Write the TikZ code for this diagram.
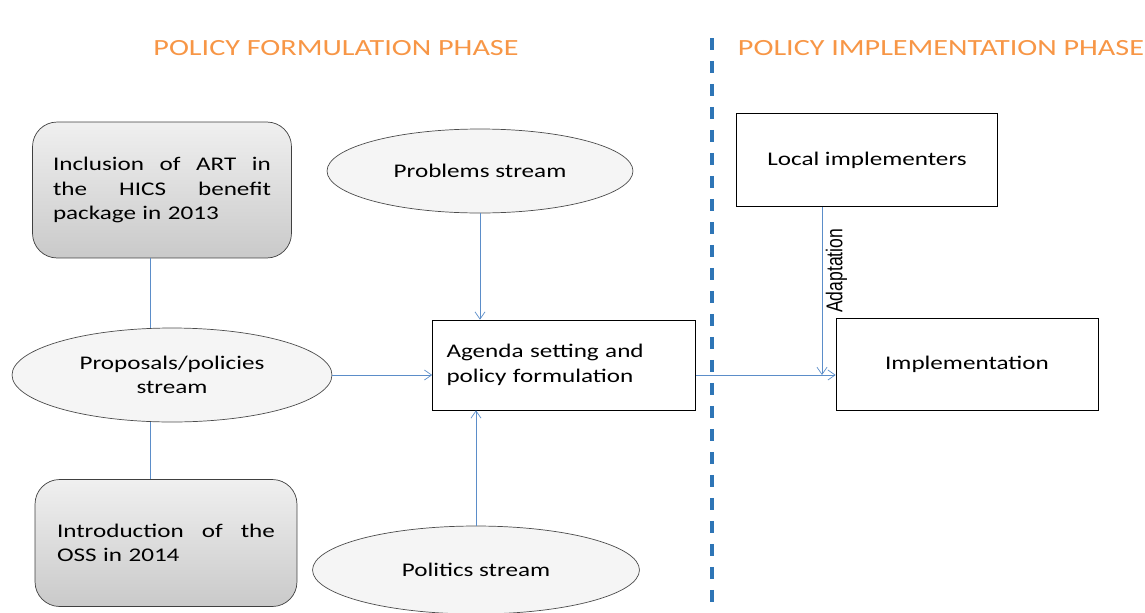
\documentclass[tikz,border=0pt]{standalone}
\usepackage{fontspec}
\setmainfont{Carlito}[FakeStretch=1.3]
\newfontfamily\narrowfont{Liberation Sans}
\definecolor{phaseorange}{HTML}{F79646}
\definecolor{linkblue}{HTML}{5B8DC9}
\definecolor{divideblue}{HTML}{2E75B6}
\usetikzlibrary{arrows.meta,positioning,shapes.geometric,calc}

\begin{document}
\begin{tikzpicture}[x=0.02cm, y=-0.02cm,
    phase/.style={phaseorange, font=\fontsize{13.2}{15}\selectfont},
    event/.style={draw=black!75, rounded corners=14pt, top color=gray!12, bottom color=gray!42,
      font=\fontsize{11}{14}\selectfont, text width=4.36cm, align=left},
    stream/.style={ellipse, draw=black!70, fill=gray!8, font=\fontsize{11}{14}\selectfont, align=center, inner sep=0pt},
    stage/.style={draw=black, fill=white, font=\fontsize{11}{14}\selectfont},
    conn/.style={linkblue, thin},
    arr/.style={linkblue, thin, -{Straight Barb[angle=70:5pt]}}]
  \useasboundingbox (0,0) rectangle (1145,612);
  % Phase titles and divider
  \node[phase] (formtitle) at (336,48) {POLICY FORMULATION PHASE};
  \node[phase] (impltitle) at (941,48) {POLICY IMPLEMENTATION PHASE};
  \draw[divideblue, line width=2.3pt, dash pattern=on 0.24cm off 0.22cm] (712,38) -- (712,612);
  % Policy events
  \node[event, minimum width=5.18cm, minimum height=2.72cm] (art) at (162,190)
    {Inclusion\hfill of\hfill ART\hfill in\\ the\hfill HICS\hfill benefit\\ package in 2013};
  \node[event, minimum width=5.24cm, minimum height=2.54cm] (oss) at (166,543)
    {Introduction\hfill of\hfill the\\ OSS in 2014};
  % Streams
  \node[stream, minimum width=6.4cm, minimum height=1.88cm] (props) at (172,375) {Proposals/policies\\stream};
  \node[stream, minimum width=6.12cm, minimum height=1.68cm] (probs) at (480,171) {Problems stream};
  \node[stream, minimum width=6.54cm, minimum height=1.76cm] (pols) at (476,570) {Politics stream};
  % Stages
  \node[stage, minimum width=5.26cm, minimum height=1.8cm, text width=4.7cm, align=left] (agenda) at (564,365)
    {Agenda setting and\\policy formulation};
  \node[stage, minimum width=5.22cm, minimum height=1.86cm] (local) at (867,160) {Local implementers};
  \node[stage, minimum width=5.24cm, minimum height=1.84cm] (impl) at (967,364) {Implementation};
  % Connections
  \draw[conn] (art.south -| 150,0) -- (props.north -| 150,0);
  \draw[conn] (props.south -| 150,0) -- (oss.north -| 150,0);
  \draw[arr] (probs.south) -- (probs.south |- agenda.north);
  \draw[arr] (pols.north) -- (pols.north |- agenda.south);
  \draw[arr] (props.east) -- (props.east -| agenda.west);
  \draw[arr] (props.east -| agenda.east) -- (props.east -| impl.west);
  \coordinate (adapt) at (822,375);
  \draw[arr] (adapt |- local.south) -- (adapt)
    node[pos=0.38, rotate=90, anchor=north, inner sep=2pt, text=black, font=\narrowfont\fontsize{10}{12}\selectfont]
    {\scalebox{1}[1.3]{Adaptation}};
\end{tikzpicture}
\end{document}
